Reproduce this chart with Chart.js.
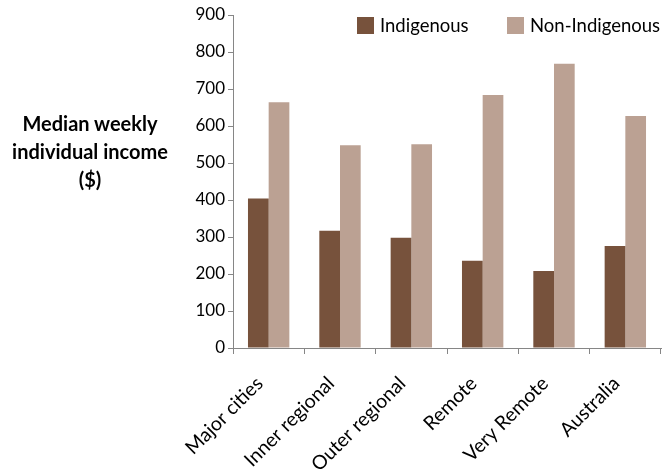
<!DOCTYPE html>
<html>
<head>
<meta charset="utf-8">
<script src="https://cdn.jsdelivr.net/npm/chart.js@4/dist/chart.umd.min.js"></script>
<style>
  body { margin: 0; background: #fff; }
  #wrap { position: relative; width: 670px; height: 472px; font-family: Lato, sans-serif; }
  #ytitle { position: absolute; left: 0; width: 180px; top: 109px; text-align: center;
    font-weight: bold; font-size: 20px; line-height: 28px; color: #000; }
  .leg { position: absolute; top: 14px; font-size: 18.5px; color: #000; line-height: 22px; }
  .leg span { display: inline-block; width: 17px; height: 17px; vertical-align: -2px; margin-right: 6px; }
</style>
</head>
<body>
<div id="wrap">
  <canvas id="incomeChart" width="670" height="472"></canvas>
  <div id="ytitle">Median weekly<br>individual income<br>($)</div>
  <div class="leg" style="left:357px"><span style="background:#77523C"></span>Indigenous</div>
  <div class="leg" style="left:507px"><span style="background:#BBA193"></span>Non-Indigenous</div>
</div>
<script>
const categories = ['Major cities', 'Inner regional', 'Outer regional', 'Remote', 'Very Remote', 'Australia'];
const indigenous = [404, 317, 298, 236, 208, 276];
const nonIndigenous = [664, 548, 551, 684, 768, 627];
const seriesNames = ['Indigenous', 'Non-Indigenous'];
const colors = ['#77523C', '#BBA193'];

const axisColor = '#868686';

new Chart(document.getElementById('incomeChart'), {
  type: 'bar',
  data: {
    labels: categories,
    datasets: [
      { label: seriesNames[0], data: indigenous, backgroundColor: colors[0] },
      { label: seriesNames[1], data: nonIndigenous, backgroundColor: colors[1] }
    ]
  },
  options: {
    responsive: false,
    animation: false,
    layout: { padding: { top: 15, right: 9, left: 0, bottom: 0 } },
    datasets: { bar: { categoryPercentage: 0.58, barPercentage: 1 } },
    plugins: { legend: { display: false }, tooltip: { enabled: false } },
    scales: {
      x: {
        border: { display: true, color: axisColor },
        grid: { drawOnChartArea: false, drawTicks: true, tickLength: 6, color: axisColor, offset: true },
        ticks: { color: '#000', font: { family: 'Lato', size: 19.5 }, minRotation: 45, maxRotation: 45,
          autoSkip: false, padding: 18, labelOffset: -9 },
        afterFit: s => { s.height = 124; }
      },
      y: {
        min: 0, max: 900,
        border: { display: true, color: axisColor },
        grid: { drawOnChartArea: false, drawTicks: true, tickLength: 5, color: axisColor },
        ticks: { stepSize: 100, color: '#000', font: { family: 'Lato', size: 17 }, padding: 3 },
        afterFit: s => { s.width = 233; }
      }
    }
  }
});
</script>
</body>
</html>
